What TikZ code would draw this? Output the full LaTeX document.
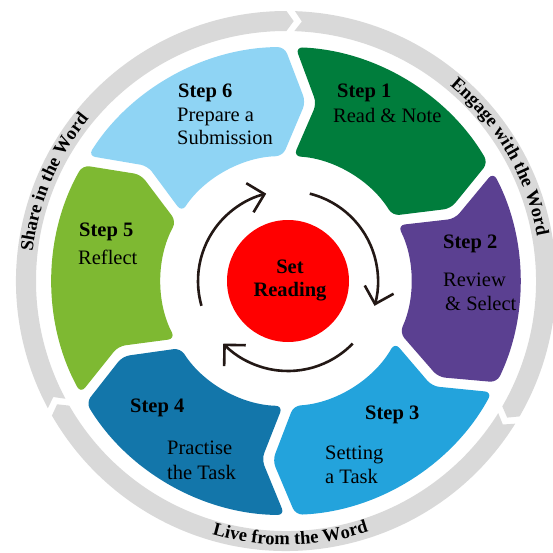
\documentclass[tikz,border=0pt]{standalone}
\usepackage{fontspec}
\setmainfont{Liberation Serif}
\usetikzlibrary{arrows.meta,decorations.text}
\definecolor{cA}{RGB}{0,125,60}
\definecolor{cB}{RGB}{91,64,145}
\definecolor{cC}{RGB}{35,163,220}
\definecolor{cD}{RGB}{19,118,170}
\definecolor{cE}{RGB}{126,185,50}
\definecolor{cF}{RGB}{143,212,244}
\definecolor{ringgray}{RGB}{217,217,217}
\definecolor{arrowc}{RGB}{35,24,21}
\newcommand\ringfont{\fontsize{18.5}{20}\selectfont\bfseries}
\tikzset{
  stepbold/.style={font=\fontsize{20.5}{24}\selectfont\bfseries, anchor=base west, inner sep=0pt},
  steptxt/.style={font=\fontsize{20.5}{24}\selectfont, anchor=base west, inner sep=0pt},
  centertxt/.style={font=\fontsize{20.5}{24}\selectfont\bfseries, anchor=base, inner sep=0pt},
  cyc/.style={line width=2.6pt, draw=arrowc, -{Straight Barb[length=15pt,width=30pt]}},
}
\begin{document}
\begin{tikzpicture}[x=1pt,y=1pt]
\useasboundingbox (-286,-271) rectangle (267,281);
% outer gray ring (three arrow bands)
\foreach \A/\B in {89/-31, -31/-151, 209/89} {
  \fill[ringgray] ({\A-0.9}:270pt) arc[start angle={\A-0.9}, end angle={\B+0.9}, radius=270pt]
    -- ({\B-0.7}:260pt) -- ({\B+0.9}:250pt)
    arc[start angle={\B+0.9}, end angle={\A-0.9}, radius=250pt]
    -- ({\A-2.5}:260pt) -- cycle;
}
% ring labels
\path[decorate, decoration={text along path, text align=center, text={|\ringfont|Engage with the Word}}]
  (60:255pt) arc[start angle=60, end angle=0, radius=255pt];
\path[decorate, decoration={text along path, text align=center, text={|\ringfont|Share in the Word}}]
  (187:255pt) arc[start angle=187, end angle=127, radius=255pt];
\path[decorate, decoration={text along path, text align=center, text={|\ringfont|Live from the Word}}]
  (-119:264pt) arc[start angle=-119, end angle=-59, radius=264pt];
% coloured step segments
\foreach \A/\B/\c in {89/29/cA, 29/-27/cB, -27/-89/cC, -89/-150/cD, 210/149/cE, 149/89/cF} {
  \fill[fill=\c, rounded corners=7pt] ({\A-1.35}:234pt)
    arc[start angle={\A-1.35}, end angle={\B+1.35}, radius=234pt]
    -- ({\B-5.25}:180pt) -- ({\B+2.5}:125pt)
    arc[start angle={\B+2.5}, end angle={\A-2.5}, radius=125pt]
    -- ({\A-8.75}:180pt) -- cycle;
}
% centre
\fill[red] (2,0) circle[radius=61pt];
\begin{scope}[shift={(2,0)}]
  \draw[cyc] (196:90pt) arc[start angle=196, end angle=104, radius=90pt];
  \draw[cyc] (76:90pt) arc[start angle=76, end angle=-16, radius=90pt];
  \draw[cyc] (-44:90pt) arc[start angle=-44, end angle=-136, radius=90pt];
\end{scope}
\node[centertxt] (set1) at (4,8) {Set};
\node[centertxt] (set2) at (4,-15) {Reading};
% step texts
\node[stepbold] (s6a) at (-108,184) {Step 6};
\node[steptxt]  (s6b) at (-109,160) {Prepare a};
\node[steptxt]  (s6c) at (-109,137) {Submission};
\node[stepbold] (s1a) at (51,184) {Step 1};
\node[steptxt]  (s1b) at (47,159) {Read \& Note};
\node[stepbold] (s2a) at (157,33) {Step 2};
\node[steptxt]  (s2b) at (157,-5) {Review};
\node[steptxt]  (s2c) at (159,-29) {\& Select};
\node[stepbold] (s3a) at (79,-138) {Step 3};
\node[steptxt]  (s3b) at (39,-178) {Setting};
\node[steptxt]  (s3c) at (39,-202) {a Task};
\node[stepbold] (s4a) at (-156,-131) {Step 4};
\node[steptxt]  (s4b) at (-119,-173) {Practise};
\node[steptxt]  (s4c) at (-119,-198) {the Task};
\node[stepbold] (s5a) at (-207,45) {Step 5};
\node[steptxt]  (s5b) at (-208,17) {Reflect};
\end{tikzpicture}
\end{document}
